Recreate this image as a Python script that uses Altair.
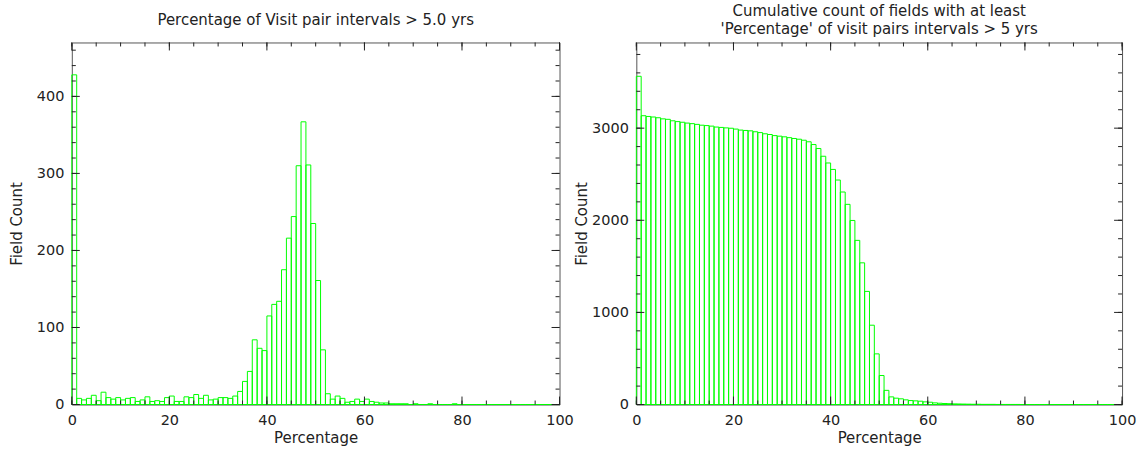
import altair as alt
import pandas as pd

# Histogram of the percentage of visit-pair intervals longer than 5 years (1 % bins)
bin_starts = list(range(100))
field_counts = [
    428, 8, 6, 8, 12, 5, 16, 9, 7, 9,
    6, 8, 9, 4, 6, 10, 4, 5, 4, 9,
    11, 4, 4, 10, 9, 13, 8, 12, 6, 7,
    9, 9, 8, 11, 17, 30, 43, 84, 73, 70,
    115, 130, 134, 175, 216, 244, 310, 367, 311, 235,
    161, 71, 14, 7, 11, 8, 3, 4, 7, 4,
    7, 4, 3, 2, 2, 1, 1, 1, 1, 0,
    1, 0, 0, 1, 0, 0, 0, 0, 1, 0,
    0, 0, 0, 0, 0, 0, 0, 0, 0, 0,
    0, 0, 0, 0, 0, 0, 0, 0, 0, 0,
]

x_major = [0, 20, 40, 60, 80, 100]
x_minor = list(range(0, 101, 5))
left_y_major = [0, 100, 200, 300, 400]
left_y_minor = list(range(0, 461, 20))
right_y_major = [0, 1000, 2000, 3000]
right_y_minor = list(range(0, 3801, 200))

left_title = "Percentage of Visit pair intervals > 5.0 yrs"
right_title = ["Cumulative count of fields with at least",
               "'Percentage' of visit pairs intervals > 5 yrs"]

FONT = "DejaVu Sans"
TEXT = "#222222"
GREEN = "#00ff00"
H = 363
MAJOR, MINOR = 8, 4

df = pd.DataFrame({
    "start": bin_starts,
    "end": [b + 1 for b in bin_starts],
    "count": field_counts,
})

x_scale = alt.Scale(domain=[0, 100], nice=False, zero=False)


def x_enc(field):
    return alt.X(field, scale=x_scale, title="Percentage",
                 axis=alt.Axis(values=x_major, format="d", ticks=False, domain=False,
                               grid=False, labelFlush=False, labelOverlap=False,
                               labelPadding=9, labelFontSize=14.5, labelColor=TEXT,
                               titleFontSize=15, titleFontWeight="normal",
                               titleColor=TEXT, titlePadding=4))


def y_enc(field, scale, values):
    return alt.Y(field, scale=scale, title="Field Count",
                 axis=alt.Axis(values=values, format="d", ticks=False, domain=False,
                               grid=False, labelFlush=False, labelOverlap=False,
                               labelPadding=8, labelFontSize=14.5, labelColor=TEXT,
                               titleFontSize=15, titleFontWeight="normal",
                               titleColor=TEXT, titleX=-55, titleY=H / 2,
                               titleBaseline="middle", titleAngle=-90))


def tick_layers(width, y_scale, y_major, y_minor):
    """Inward-pointing major/minor ticks on all four sides of the frame."""
    layers = []
    for values, length in ((x_minor, MINOR), (x_major, MAJOR)):
        d = pd.DataFrame({"v": values})
        for y0, y1 in ((H, H - length), (0, length)):
            layers.append(
                alt.Chart(d).mark_rule(color=TEXT, strokeWidth=1).encode(
                    x=x_enc("v:Q"), y=alt.value(y0), y2=alt.value(y1)))
    for values, length in ((y_minor, MINOR), (y_major, MAJOR)):
        d = pd.DataFrame({"v": values})
        for x0, x1 in ((0, length), (width, width - length)):
            layers.append(
                alt.Chart(d).mark_rule(color=TEXT, strokeWidth=1).encode(
                    y=y_enc("v:Q", y_scale, y_major), x=alt.value(x0), x2=alt.value(x1)))
    return layers


def outline_bar():
    return alt.Chart(df).mark_bar(fill=GREEN, fillOpacity=0, stroke=GREEN,
                                  strokeWidth=1)


# Left panel: per-bin field counts
LW = 489
left_y_scale = alt.Scale(domain=[0, 470], nice=False)
left_bars = outline_bar().encode(
    x=x_enc("start:Q"),
    x2="end:Q",
    y=y_enc("count:Q", left_y_scale, left_y_major),
    y2=alt.datum(0),
)
left = alt.layer(left_bars, *tick_layers(LW, left_y_scale, left_y_major, left_y_minor)).properties(
    width=LW, height=H,
    title=alt.TitleParams(left_title, fontSize=15, font=FONT, fontWeight="normal",
                          color=TEXT, anchor="middle", offset=14),
)

# Right panel: number of fields with at least the given percentage
RW = 487
right_y_scale = alt.Scale(domain=[0, 3930], nice=False)
right_bars = outline_bar().transform_window(
    cumulative="sum(count)",
    sort=[alt.SortField("start", order="descending")],
    frame=[None, 0],
).encode(
    x=x_enc("start:Q"),
    x2="end:Q",
    y=y_enc("cumulative:Q", right_y_scale, right_y_major),
    y2=alt.datum(0),
)
right = alt.layer(right_bars, *tick_layers(RW, right_y_scale, right_y_major, right_y_minor)).properties(
    width=RW, height=H,
    title=alt.TitleParams(right_title, fontSize=15, font=FONT, fontWeight="normal",
                          color=TEXT, anchor="middle", offset=5, lineHeight=18),
)

chart = alt.hconcat(left, right, spacing=77).properties(
    bounds="flush",
    padding={"left": 9, "top": 3, "right": 5, "bottom": 5},
    background="white",
).configure_view(
    stroke="#555555", strokeWidth=1,
).configure_axis(
    labelFont=FONT, titleFont=FONT,
).configure_title(font=FONT)

chart.save("out.html", embed_options={"renderer": "svg", "actions": False})
